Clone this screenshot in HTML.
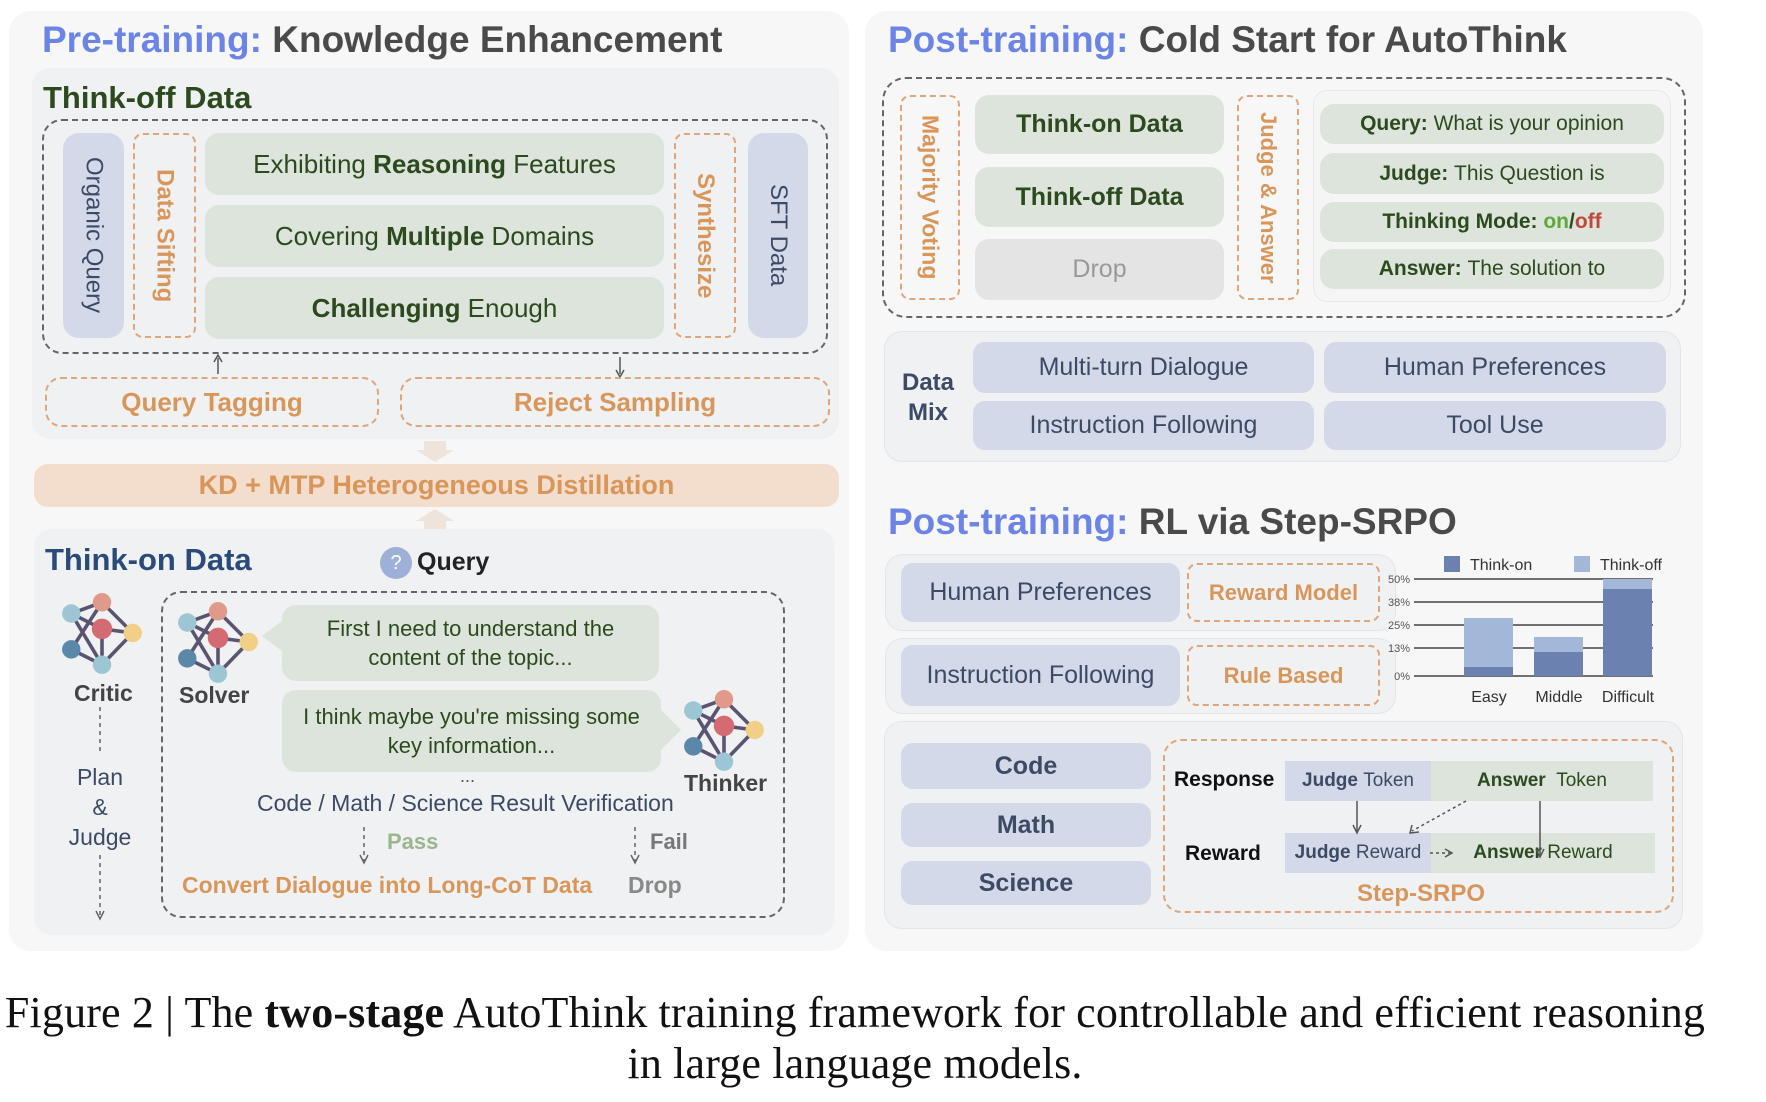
<!DOCTYPE html>
<html><head><meta charset="utf-8">
<style>
*{box-sizing:border-box;margin:0;padding:0}
body{width:1766px;height:1102px;background:#fff;position:relative;overflow:hidden;font-family:"Liberation Sans",sans-serif}
.a{position:absolute}
.c{display:flex;align-items:center;justify-content:center;text-align:center}
.panel{background:#f7f7f7;border-radius:22px}
.inner{background:#eff1f2;border-radius:18px}
.dash{border:2px dashed #666;border-radius:20px}
.odash{border:2px dashed #e0a57a;border-radius:10px}
.g{background:#dce4dc;border-radius:14px;color:#2d4a1f}
.b{background:#d3d9e8;border-radius:12px;color:#3d4a66}
.ttl{font-size:37px;font-weight:bold;color:#4a4a4a;white-space:nowrap}
.ttl span{color:#6b84e6}
.or{color:#d9965a;font-weight:bold}
.vt{writing-mode:vertical-rl}
</style></head><body>
<svg width="0" height="0" style="position:absolute">
<defs>
<symbol id="net" viewBox="0 0 80 84">
<g stroke="#5a5470" stroke-width="3.5">
<line x1="10" y1="22" x2="40" y2="11"/><line x1="10" y1="22" x2="40" y2="37"/><line x1="10" y1="22" x2="40" y2="72"/>
<line x1="40" y1="11" x2="70" y2="41"/><line x1="40" y1="11" x2="10" y2="57"/>
<line x1="40" y1="37" x2="70" y2="41"/><line x1="40" y1="37" x2="40" y2="72"/>
<line x1="70" y1="41" x2="40" y2="72"/><line x1="10" y1="57" x2="40" y2="72"/>
</g>
<circle cx="10" cy="22" r="9" fill="#9cc6d4"/><circle cx="40" cy="11" r="9" fill="#e09a8a"/>
<circle cx="40" cy="37" r="10" fill="#d46a72"/><circle cx="70" cy="41" r="9" fill="#f2cf86"/>
<circle cx="10" cy="57" r="9" fill="#5b87a8"/><circle cx="40" cy="72" r="9" fill="#9cc6d4"/>
</symbol>
</defs></svg>

<!-- LEFT PANEL -->
<div class="a panel" style="left:9px;top:11px;width:840px;height:940px"></div>
<div class="a ttl" style="left:42px;top:19px"><span>Pre-training:</span> Knowledge Enhancement</div>
<div class="a inner" style="left:32px;top:68px;width:807px;height:371px"></div>
<div class="a" style="left:43px;top:80px;font-size:31px;font-weight:bold;color:#2d4a1f">Think-off Data</div>
<div class="a dash" style="left:42px;top:119px;width:786px;height:235px"></div>
<div class="a b c vt" style="left:63px;top:133px;width:61px;height:205px;font-size:24px;border-radius:16px">Organic Query</div>
<div class="a odash c vt or" style="left:133px;top:133px;width:63px;height:205px;font-size:24px">Data Sifting</div>
<div class="a g c" style="left:205px;top:133px;width:459px;height:62px;font-size:26px">Exhibiting&nbsp;<b>Reasoning</b>&nbsp;Features</div>
<div class="a g c" style="left:205px;top:205px;width:459px;height:62px;font-size:26px">Covering&nbsp;<b>Multiple</b>&nbsp;Domains</div>
<div class="a g c" style="left:205px;top:277px;width:459px;height:62px;font-size:26px"><b>Challenging</b>&nbsp;Enough</div>
<div class="a odash c vt or" style="left:674px;top:133px;width:62px;height:205px;font-size:24px">Synthesize</div>
<div class="a b c vt" style="left:748px;top:133px;width:60px;height:205px;font-size:24px;border-radius:16px">SFT Data</div>
<svg class="a" style="left:0;top:0" width="850" height="560">
<line x1="218" y1="374" x2="218" y2="358" stroke="#555" stroke-width="1.5"/><path d="M214 362 L218 355 L222 362" fill="none" stroke="#555" stroke-width="1.5"/>
<line x1="620" y1="357" x2="620" y2="374" stroke="#555" stroke-width="1.5"/><path d="M616 370 L620 377 L624 370" fill="none" stroke="#555" stroke-width="1.5"/>
<path d="M424 441 h22 v9 h8 l-19 12 l-19 -12 h8z" fill="#eee4dc"/>
<path d="M424 530 h22 v-9 h8 l-19 -12 l-19 12 h8z" fill="#eee4dc"/>
</svg>
<div class="a odash c or" style="left:45px;top:377px;width:334px;height:50px;font-size:26px;border-radius:16px">Query Tagging</div>
<div class="a odash c or" style="left:400px;top:377px;width:430px;height:50px;font-size:26px;border-radius:16px">Reject Sampling</div>
<div class="a c or" style="left:34px;top:464px;width:805px;height:43px;background:#f3ddcc;border-radius:14px;font-size:27px">KD + MTP Heterogeneous Distillation</div>

<div class="a inner" style="left:34px;top:529px;width:801px;height:406px"></div>
<div class="a" style="left:45px;top:542px;font-size:31px;font-weight:bold;color:#2a4a7a">Think-on Data</div>
<div class="a c" style="left:380px;top:547px;width:32px;height:32px;border-radius:50%;background:#9fb0d8;color:#fff;font-size:20px">?</div>
<div class="a" style="left:417px;top:548px;font-size:25px;font-weight:bold;color:#222">Query</div>
<svg class="a" style="left:61px;top:591px" width="82" height="86"><use href="#net"/></svg>
<div class="a" style="left:74px;top:680px;font-size:23px;font-weight:bold;color:#444">Critic</div>
<svg class="a" style="left:90px;top:705px" width="20" height="220">
<line x1="10" y1="2" x2="10" y2="50" stroke="#666" stroke-width="1.5" stroke-dasharray="4 4"/>
<line x1="10" y1="150" x2="10" y2="212" stroke="#666" stroke-width="1.5" stroke-dasharray="4 4"/>
<path d="M6 206 L10 214 L14 206" fill="none" stroke="#666" stroke-width="1.5"/></svg>
<div class="a" style="left:55px;top:762px;width:90px;text-align:center;font-size:23px;line-height:30px;color:#3d4a66">Plan<br>&amp;<br>Judge</div>
<div class="a dash" style="left:161px;top:591px;width:624px;height:327px"></div>
<svg class="a" style="left:177px;top:600px" width="82" height="86"><use href="#net"/></svg>
<div class="a" style="left:179px;top:682px;font-size:23px;font-weight:bold;color:#444">Solver</div>
<svg class="a" style="left:260px;top:605px" width="30" height="60"><path d="M30 10 L2 31 L30 52z" fill="#dce4dc"/></svg>
<div class="a g c" style="left:282px;top:605px;width:377px;height:76px;font-size:22px;line-height:29px">First I need to understand the<br>content of the topic...</div>
<div class="a g c" style="left:282px;top:690px;width:379px;height:82px;font-size:22px;line-height:29px">I think maybe you're missing some<br>key information...</div>
<svg class="a" style="left:659px;top:700px" width="24" height="60"><path d="M0 8 L22 30 L0 52z" fill="#dce4dc"/></svg>
<svg class="a" style="left:683px;top:688px" width="82" height="86"><use href="#net"/></svg>
<div class="a" style="left:684px;top:770px;font-size:23px;font-weight:bold;color:#444">Thinker</div>
<div class="a" style="left:460px;top:766px;font-size:18px;color:#555">...</div>
<div class="a" style="left:257px;top:790px;font-size:23px;color:#3d4a66">Code / Math / Science Result Verification</div>
<svg class="a" style="left:355px;top:825px" width="300" height="45">
<line x1="9" y1="2" x2="9" y2="36" stroke="#666" stroke-width="1.5" stroke-dasharray="4 4"/><path d="M5 30 L9 38 L13 30" fill="none" stroke="#666" stroke-width="1.5"/>
<line x1="280" y1="2" x2="280" y2="36" stroke="#666" stroke-width="1.5" stroke-dasharray="4 4"/><path d="M276 30 L280 38 L284 30" fill="none" stroke="#666" stroke-width="1.5"/></svg>
<div class="a" style="left:387px;top:829px;font-size:22px;font-weight:bold;color:#9bb58f">Pass</div>
<div class="a" style="left:650px;top:829px;font-size:22px;font-weight:bold;color:#777">Fail</div>
<div class="a or" style="left:182px;top:872px;font-size:23px">Convert Dialogue into Long-CoT Data</div>
<div class="a" style="left:628px;top:872px;font-size:23px;font-weight:bold;color:#888">Drop</div>

<!-- RIGHT PANEL -->
<div class="a panel" style="left:865px;top:11px;width:838px;height:940px"></div>
<div class="a ttl" style="left:888px;top:19px"><span>Post-training:</span> Cold Start for AutoThink</div>
<div class="a dash" style="left:882px;top:77px;width:804px;height:241px;border-radius:24px"></div>
<div class="a odash c vt or" style="left:900px;top:95px;width:60px;height:205px;font-size:23px">Majority Voting</div>
<div class="a g c" style="left:975px;top:95px;width:249px;height:59px;font-size:25px;font-weight:bold">Think-on Data</div>
<div class="a g c" style="left:975px;top:167px;width:249px;height:60px;font-size:25px;font-weight:bold">Think-off Data</div>
<div class="a c" style="left:975px;top:239px;width:249px;height:61px;font-size:25px;background:#e4e4e4;border-radius:14px;color:#999">Drop</div>
<div class="a odash c vt or" style="left:1237px;top:95px;width:62px;height:205px;font-size:22px">Judge &amp; Answer</div>
<div class="a" style="left:1313px;top:90px;width:358px;height:212px;background:#f4f5f4;border-radius:14px;border:1px solid #e6e8e6"></div>
<div class="a g c" style="left:1320px;top:104px;width:344px;height:40px;font-size:21px"><b>Query:</b>&nbsp;What is your opinion</div>
<div class="a g c" style="left:1320px;top:153px;width:344px;height:41px;font-size:21px"><b>Judge:</b>&nbsp;This Question is</div>
<div class="a g c" style="left:1320px;top:202px;width:344px;height:40px;font-size:21px"><b>Thinking Mode:&nbsp;<span style="color:#5fa83a">on</span>/<span style="color:#c0473a">off</span></b></div>
<div class="a g c" style="left:1320px;top:249px;width:344px;height:40px;font-size:21px"><b>Answer:</b>&nbsp;The solution to</div>

<div class="a inner" style="left:884px;top:331px;width:797px;height:131px;border:1px solid #e3e5e8"></div>
<div class="a" style="left:895px;top:368px;width:66px;text-align:center;font-size:24px;font-weight:bold;line-height:30px;color:#3d4a66">Data<br>Mix</div>
<div class="a b c" style="left:973px;top:342px;width:341px;height:51px;font-size:25px">Multi-turn Dialogue</div>
<div class="a b c" style="left:1324px;top:342px;width:342px;height:51px;font-size:25px">Human Preferences</div>
<div class="a b c" style="left:973px;top:401px;width:341px;height:49px;font-size:25px">Instruction Following</div>
<div class="a b c" style="left:1324px;top:401px;width:342px;height:49px;font-size:25px">Tool Use</div>

<div class="a ttl" style="left:888px;top:501px"><span>Post-training:</span> RL via Step-SRPO</div>
<div class="a inner" style="left:885px;top:554px;width:511px;height:77px;border:1px solid #e3e5e8"></div>
<div class="a b c" style="left:901px;top:563px;width:279px;height:59px;font-size:25px">Human Preferences</div>
<div class="a odash c or" style="left:1187px;top:563px;width:193px;height:59px;font-size:22px">Reward Model</div>
<div class="a inner" style="left:885px;top:638px;width:511px;height:76px;border:1px solid #e3e5e8"></div>
<div class="a b c" style="left:901px;top:645px;width:279px;height:61px;font-size:25px">Instruction Following</div>
<div class="a odash c or" style="left:1187px;top:645px;width:193px;height:61px;font-size:22px">Rule Based</div>

<svg class="a" style="left:1380px;top:550px" width="320" height="160" font-family="Liberation Sans" >
<rect x="64" y="6" width="16" height="16" fill="#6b82b0"/><text x="90" y="20" font-size="16" fill="#333">Think-on</text>
<rect x="194" y="6" width="16" height="16" fill="#a3b7d8"/><text x="220" y="20" font-size="16" fill="#333">Think-off</text>
<g stroke="#444" stroke-width="1.5"><line x1="34" y1="29" x2="273" y2="29"/><line x1="34" y1="52" x2="273" y2="52"/><line x1="34" y1="75" x2="273" y2="75"/><line x1="34" y1="98" x2="273" y2="98"/><line x1="34" y1="126" x2="273" y2="126"/></g>
<g font-size="11" fill="#555" text-anchor="end"><text x="30" y="33">50%</text><text x="30" y="56">38%</text><text x="30" y="79">25%</text><text x="30" y="102">13%</text><text x="30" y="130">0%</text></g>
<rect x="84" y="68" width="49" height="58" fill="#a3b7d8"/><rect x="84" y="117" width="49" height="9" fill="#6b82b0"/>
<rect x="154" y="87" width="49" height="39" fill="#a3b7d8"/><rect x="154" y="102" width="49" height="24" fill="#6b82b0"/>
<rect x="223" y="29" width="49" height="97" fill="#a3b7d8"/><rect x="223" y="39" width="49" height="87" fill="#6b82b0"/>
<g font-size="16" fill="#333" text-anchor="middle"><text x="109" y="152">Easy</text><text x="179" y="152">Middle</text><text x="248" y="152">Difficult</text></g>
</svg>

<div class="a inner" style="left:884px;top:721px;width:799px;height:208px;border:1px solid #e3e5e8"></div>
<div class="a b c" style="left:901px;top:743px;width:250px;height:46px;font-size:25px;font-weight:bold">Code</div>
<div class="a b c" style="left:901px;top:803px;width:250px;height:44px;font-size:25px;font-weight:bold">Math</div>
<div class="a b c" style="left:901px;top:861px;width:250px;height:44px;font-size:25px;font-weight:bold">Science</div>
<div class="a odash" style="left:1163px;top:739px;width:511px;height:174px;border-radius:18px"></div>
<div class="a" style="left:1174px;top:768px;font-size:21px;font-weight:bold;color:#111">Response</div>
<div class="a" style="left:1185px;top:842px;font-size:21px;font-weight:bold;color:#111">Reward</div>
<div class="a c" style="left:1285px;top:761px;width:146px;height:40px;background:#d3d9e8;font-size:19px;color:#3d4a66"><b>Judge</b>&nbsp;Token</div>
<div class="a c" style="left:1431px;top:761px;width:222px;height:40px;background:#dce4dc;font-size:19px;color:#2d4a1f"><b>Answer</b>&nbsp;&nbsp;Token</div>
<div class="a c" style="left:1285px;top:833px;width:146px;height:40px;background:#d3d9e8;font-size:19px;color:#3d4a66"><b>Judge</b>&nbsp;Reward</div>
<div class="a c" style="left:1431px;top:833px;width:224px;height:40px;background:#dce4dc;font-size:19px;color:#2d4a1f"><b>Answer</b>&nbsp;Reward</div>
<svg class="a" style="left:1280px;top:795px" width="360" height="70">
<line x1="77" y1="6" x2="77" y2="36" stroke="#555" stroke-width="1.5"/><path d="M73 30 L77 38 L81 30" fill="none" stroke="#555" stroke-width="1.5"/>
<line x1="260" y1="6" x2="260" y2="60" stroke="#555" stroke-width="1.5"/><path d="M256 54 L260 62 L264 54" fill="none" stroke="#555" stroke-width="1.5"/>
<line x1="186" y1="6" x2="132" y2="36" stroke="#555" stroke-width="1.5" stroke-dasharray="3 3"/><path d="M132 30 L130 38 L139 37" fill="none" stroke="#555" stroke-width="1.5"/>
<line x1="150" y1="58" x2="170" y2="58" stroke="#555" stroke-width="1.5" stroke-dasharray="3 3"/><path d="M165 54 L172 58 L165 62" fill="none" stroke="#555" stroke-width="1.5"/>
</svg>
<div class="a or" style="left:1321px;top:880px;width:200px;text-align:center;font-size:24px">Step-SRPO</div>

<!-- CAPTION -->
<div class="a" style="left:0;top:987px;width:1710px;font-family:'Liberation Serif',serif;font-size:44px;letter-spacing:0.15px;color:#111;line-height:51px;text-align:center;white-space:nowrap">Figure 2 | The <b>two-stage</b> AutoThink training framework for controllable and efficient reasoning<br>in large language models.</div>
</body></html>
